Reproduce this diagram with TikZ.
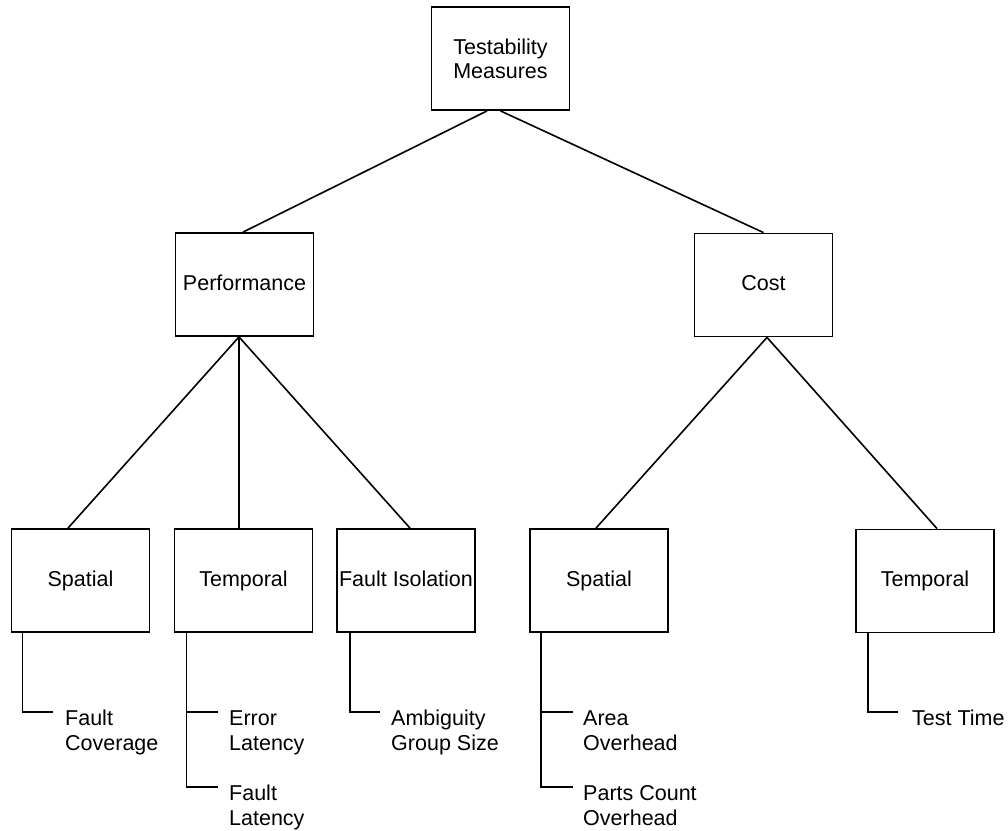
\documentclass[tikz,border=0pt]{standalone}
\usepackage{fontspec}
\setmainfont{Liberation Sans}
\begin{document}
\begin{tikzpicture}[x=1pt,y=-1pt,
  box/.style={draw, line width=1.8pt, minimum width=138pt, minimum height=103pt,
    inner sep=0pt, align=center, font=\fontsize{21.5}{24}\selectfont},
  onebox/.style={box, text height=15.5pt, text depth=4.5pt},
  leaf/.style={anchor=north west, inner sep=0pt, align=left,
    font=\fontsize{21.5}{25}\selectfont},
  link/.style={line width=1.6pt},
  twig/.style={line width=1.4pt}]
\useasboundingbox (0,0) rectangle (1008,830);

% boxes
\node[box] (tm)   at (500.5,58.5) {Testability\\Measures};
\node[onebox] (perf) at (244.5,284.5) {Performance};
\node[onebox] (cost) at (763.5,285) {Cost};
\node[onebox] (psp)  at (80.5,580.5) {Spatial};
\node[onebox] (ptm)  at (243.5,580.5) {Temporal};
\node[onebox] (pfi)  at (406,580.5) {Fault Isolation};
\node[onebox] (csp)  at (599,580.5) {Spatial};
\node[onebox] (ctm)  at (925,581) {Temporal};

% leaf measures
\node[leaf] (fc) at (65,710)  {Fault\\Coverage};
\node[leaf] (el) at (229,710) {Error\\Latency};
\node[leaf] (fl) at (229,785) {Fault\\Latency};
\node[leaf] (ag) at (391,710) {Ambiguity\\Group Size};
\node[leaf] (ao) at (583,710) {Area\\Overhead};
\node[leaf] (pc) at (583,785) {Parts Count\\Overhead};
\node[leaf] (tt) at (912,710) {Test Time};

% tree links
\draw[link] ([xshift=-13.5pt]tm.south) -- ([xshift=-1.5pt]perf.north);
\draw[link] (tm.south) -- (cost.north);
\draw[link] ([xshift=-5.5pt]perf.south) -- ([xshift=-12.5pt]psp.north);
\draw[link] ([xshift=-5.5pt]perf.south) -- ([xshift=-4.5pt]ptm.north);
\draw[link] ([xshift=-5.5pt]perf.south) -- ([xshift=4pt]pfi.north);
\draw[link] ([xshift=3.5pt]cost.south) -- ([xshift=-3pt]csp.north);
\draw[link] ([xshift=3.5pt]cost.south) -- ([xshift=12pt]ctm.north);

% elbow connectors to the leaves
\draw[twig] ([xshift=12pt]psp.south west) |- ([shift={(-12pt,-2pt)}]fc.north west);
\draw[twig] ([xshift=13pt]ptm.south west) |- ([shift={(-11pt,-2pt)}]el.north west);
\draw[twig] ([xshift=13pt]ptm.south west) |- ([shift={(-11pt,-2pt)}]fl.north west);
\draw[twig] ([xshift=14pt]pfi.south west) |- ([shift={(-11pt,-2pt)}]ag.north west);
\draw[twig] ([xshift=12pt]csp.south west) |- ([shift={(-10pt,-2pt)}]ao.north west);
\draw[twig] ([xshift=12pt]csp.south west) |- ([shift={(-10pt,-2pt)}]pc.north west);
\draw[twig] ([xshift=13pt]ctm.south west) |- ([shift={(-14pt,-2pt)}]tt.north west);
\end{tikzpicture}
\end{document}
